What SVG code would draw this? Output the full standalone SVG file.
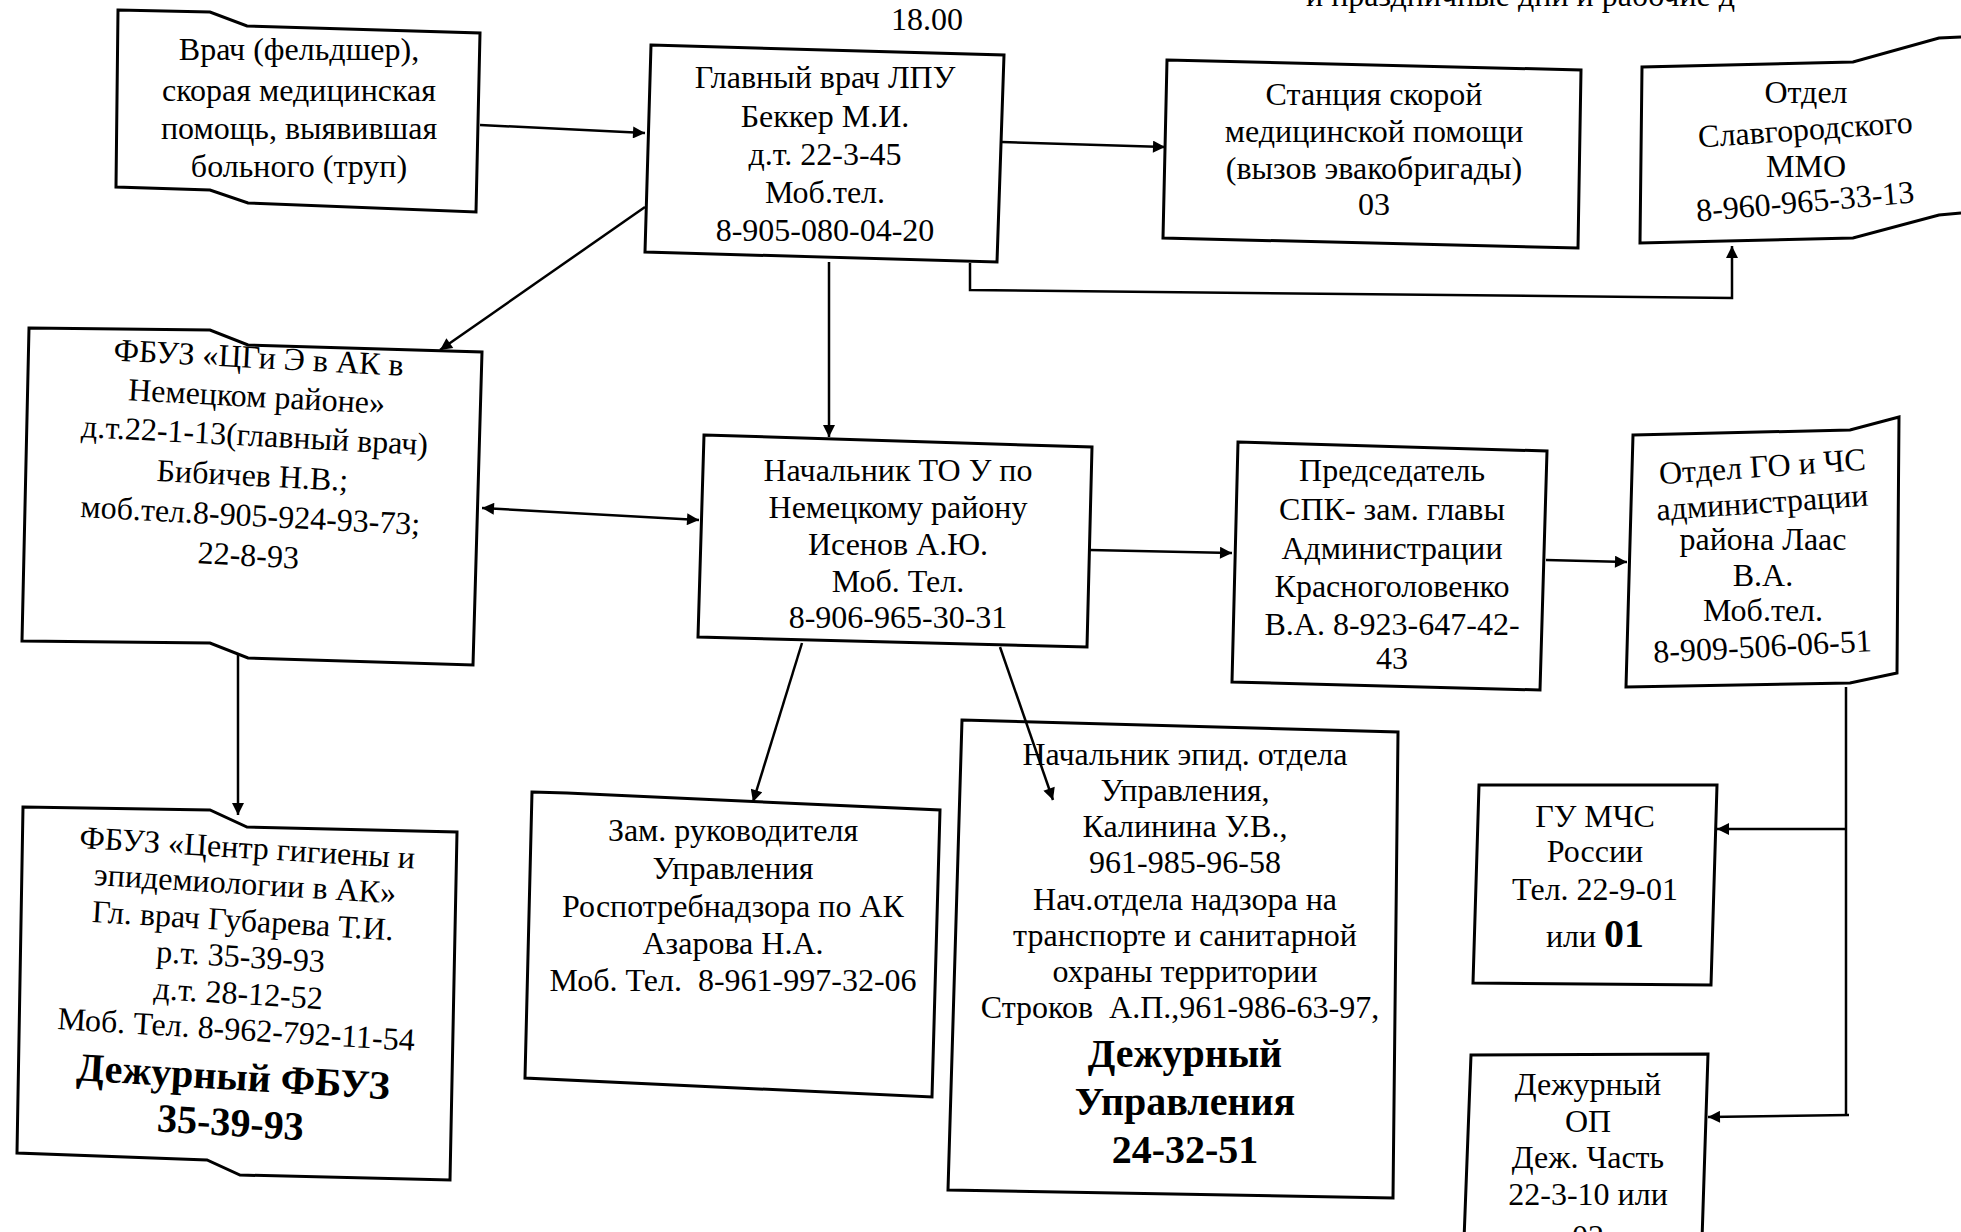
<svg xmlns="http://www.w3.org/2000/svg" width="1961" height="1232" viewBox="0 0 1961 1232">
<style>
.box{fill:#fff;stroke:#000;stroke-width:3;stroke-linejoin:miter}
.con{fill:none;stroke:#000;stroke-width:2.5}
.t{font-family:"Liberation Serif","Times New Roman",serif;font-size:32px;text-anchor:middle;fill:#000}
.b{font-weight:bold;font-size:40px}
.pre{white-space:pre}
</style>
<defs>
<marker id="ah" viewBox="0 0 10 10" refX="10" refY="5" markerUnits="userSpaceOnUse" markerWidth="16" markerHeight="12" orient="auto-start-reverse">
<path d="M0,0 L10,5 L0,10 z" fill="#000"/>
</marker>
</defs>
<rect width="1961" height="1232" fill="#fff"/>

<g id="header">
<text class="t" x="1735" y="6" style="text-anchor:end">и праздничные дни и рабочие д</text>
<text class="t" x="927" y="30" font-size="30">18.00</text>
</g>

<g id="n-vrach">
<polygon class="box" points="118,10 210,12 247,26 480,33 476,212 248,203 210,190 116,187"/>
<text class="t" x="299" y="60">Врач (фельдшер),</text>
<text class="t" x="299" y="101">скорая медицинская</text>
<text class="t" x="299" y="139">помощь, выявившая</text>
<text class="t" x="299" y="177">больного (труп)</text>
</g>

<g id="n-glavvrach">
<polygon class="box" points="651,45 1004,55 997,262 645,252"/>
<text class="t" x="825" y="88">Главный врач ЛПУ</text>
<text class="t" x="825" y="127">Беккер М.И.</text>
<text class="t" x="825" y="165">д.т. 22-3-45</text>
<text class="t" x="825" y="203">Моб.тел.</text>
<text class="t" x="825" y="241">8-905-080-04-20</text>
</g>

<g id="n-stanciya">
<polygon class="box" points="1167,60 1581,70 1578,248 1163,238"/>
<text class="t" x="1374" y="105">Станция скорой</text>
<text class="t" x="1374" y="142">медицинской помощи</text>
<text class="t" x="1374" y="179">(вызов эвакобригады)</text>
<text class="t" x="1374" y="215">03</text>
</g>

<g id="n-slavgorod">
<path class="box" d="M1961,37 L1939,38 L1853,62 L1642,67 L1640,243 L1853,238 L1939,215 L1961,213"/>
<text class="t" x="1806" y="103">Отдел</text>
<text class="t" x="1806" y="140" transform="rotate(-4 1806 140)">Славгородского</text>
<text class="t" x="1806" y="177">ММО</text>
<text class="t" x="1806" y="212" transform="rotate(-5 1806 212)">8-960-965-33-13</text>
</g>

<g id="n-fbuz-cgie">
<polygon class="box" points="29,328 210,330 248,345 482,352 473,665 248,658 210,643 22,641"/>
<g transform="rotate(3 253 466)">
<text class="t" x="253" y="368">ФБУЗ «ЦГи Э в АК в</text>
<text class="t" x="253" y="407">Немецком районе»</text>
<text class="t" x="253" y="446">д.т.22-1-13(главный врач)</text>
<text class="t" x="253" y="486">Бибичев Н.В.;</text>
<text class="t" x="253" y="526">моб.тел.8-905-924-93-73;</text>
<text class="t" x="253" y="566">22-8-93</text>
</g>
</g>

<g id="n-nachalnik-to">
<polygon class="box" points="704,435 1092,447 1087,647 698,637"/>
<text class="t" x="898" y="481">Начальник ТО У по</text>
<text class="t" x="898" y="518">Немецкому району</text>
<text class="t" x="898" y="555">Исенов А.Ю.</text>
<text class="t" x="898" y="592">Моб. Тел.</text>
<text class="t" x="898" y="628">8-906-965-30-31</text>
</g>

<g id="n-predsedatel">
<polygon class="box" points="1238,442 1547,451 1540,690 1232,682"/>
<text class="t" x="1392" y="481">Председатель</text>
<text class="t" x="1392" y="520">СПК- зам. главы</text>
<text class="t" x="1392" y="559">Администрации</text>
<text class="t" x="1392" y="597">Красноголовенко</text>
<text class="t" x="1392" y="635">В.А. 8-923-647-42-</text>
<text class="t" x="1392" y="669">43</text>
</g>

<g id="n-go-chs">
<polygon class="box" points="1633,435 1850,430 1899,417 1897,673 1850,683 1626,687"/>
<text class="t" x="1763" y="477" transform="rotate(-4 1763 477)">Отдел ГО и ЧС</text>
<text class="t" x="1763" y="513" transform="rotate(-4 1763 513)">администрации</text>
<text class="t" x="1763" y="550">района Лаас</text>
<text class="t" x="1763" y="586">В.А.</text>
<text class="t" x="1763" y="621">Моб.тел.</text>
<text class="t" x="1763" y="657" transform="rotate(-3 1763 657)">8-909-506-06-51</text>
</g>

<g id="n-fbuz-centr">
<polygon class="box" points="23,807 210,810 247,827 457,832 450,1180 240,1175 207,1160 17,1153"/>
<g transform="rotate(3.5 238 1000)">
<text class="t" x="238" y="858" font-size="30">ФБУЗ «Центр гигиены и</text>
<text class="t" x="238" y="894" font-size="30">эпидемиологии в АК»</text>
<text class="t" x="238" y="931" font-size="30">Гл. врач Губарева Т.И.</text>
<text class="t" x="238" y="967" font-size="30">р.т. 35-39-93</text>
<text class="t" x="238" y="1004" font-size="30">д.т. 28-12-52</text>
<text class="t" x="238" y="1040" font-size="29">Моб. Тел. 8-962-792-11-54</text>
<text class="t b" x="238" y="1090" font-size="38">Дежурный ФБУЗ</text>
<text class="t b" x="238" y="1136" font-size="38">35-39-93</text>
</g>
</g>

<g id="n-zam">
<polygon class="box" points="532,792 567,793 940,810 932,1097 525,1078"/>
<text class="t" x="733" y="841">Зам. руководителя</text>
<text class="t" x="733" y="879">Управления</text>
<text class="t" x="733" y="917">Роспотребнадзора по АК</text>
<text class="t" x="733" y="954">Азарова Н.А.</text>
<text class="t pre" x="733" y="991">Моб. Тел.  8-961-997-32-06</text>
</g>

<g id="n-epid">
<polygon class="box" points="962,720 1398,732 1393,1198 948,1190"/>
<text class="t" x="1185" y="765">Начальник эпид. отдела</text>
<text class="t" x="1185" y="801">Управления,</text>
<text class="t" x="1185" y="837">Калинина У.В.,</text>
<text class="t" x="1185" y="873">961-985-96-58</text>
<text class="t" x="1185" y="910">Нач.отдела надзора на</text>
<text class="t" x="1185" y="946">транспорте и санитарной</text>
<text class="t" x="1185" y="982">охраны территории</text>
<text class="t pre" x="1180" y="1018">Строков  А.П.,961-986-63-97,</text>
<text class="t b" x="1185" y="1067">Дежурный</text>
<text class="t b" x="1185" y="1115">Управления</text>
<text class="t b" x="1185" y="1163">24-32-51</text>
</g>

<g id="n-gu-mchs">
<polygon class="box" points="1479,785 1717,785 1711,985 1473,983"/>
<text class="t" x="1595" y="827">ГУ МЧС</text>
<text class="t" x="1595" y="862">России</text>
<text class="t" x="1595" y="900">Тел. 22-9-01</text>
<text class="t" x="1595" y="947">или <tspan class="b">01</tspan></text>
</g>

<g id="n-dezh-op">
<path class="box" d="M1464,1240 L1471,1055 L1708,1054 L1702,1240"/>
<text class="t" x="1588" y="1095">Дежурный</text>
<text class="t" x="1588" y="1132">ОП</text>
<text class="t" x="1588" y="1168">Деж. Часть</text>
<text class="t" x="1588" y="1205">22-3-10 или</text>
<text class="t" x="1588" y="1247">02</text>
</g>

<g id="connectors">
<line class="con" x1="480" y1="125" x2="645" y2="133" marker-end="url(#ah)"/>
<line class="con" x1="645" y1="207" x2="440" y2="350" marker-end="url(#ah)"/>
<line class="con" x1="1002" y1="142" x2="1165" y2="147" marker-end="url(#ah)"/>
<polyline class="con" points="970,263 970,290 1732,298 1732,246" marker-end="url(#ah)"/>
<line class="con" x1="829" y1="262" x2="829" y2="437" marker-end="url(#ah)"/>
<line class="con" x1="482" y1="508" x2="699" y2="520" marker-start="url(#ah)" marker-end="url(#ah)"/>
<line class="con" x1="238" y1="655" x2="238" y2="815" marker-end="url(#ah)"/>
<line class="con" x1="1090" y1="550" x2="1232" y2="553" marker-end="url(#ah)"/>
<line class="con" x1="1546" y1="560" x2="1627" y2="562" marker-end="url(#ah)"/>
<line class="con" x1="802" y1="643" x2="753" y2="802" marker-end="url(#ah)"/>
<line class="con" x1="1000" y1="647" x2="1053" y2="800" marker-end="url(#ah)"/>
<line class="con" x1="1846" y1="687" x2="1846" y2="1115"/>
<line class="con" x1="1846" y1="829" x2="1717" y2="829" marker-end="url(#ah)"/>
<line class="con" x1="1849" y1="1115" x2="1708" y2="1117" marker-end="url(#ah)"/>
</g>
</svg>
